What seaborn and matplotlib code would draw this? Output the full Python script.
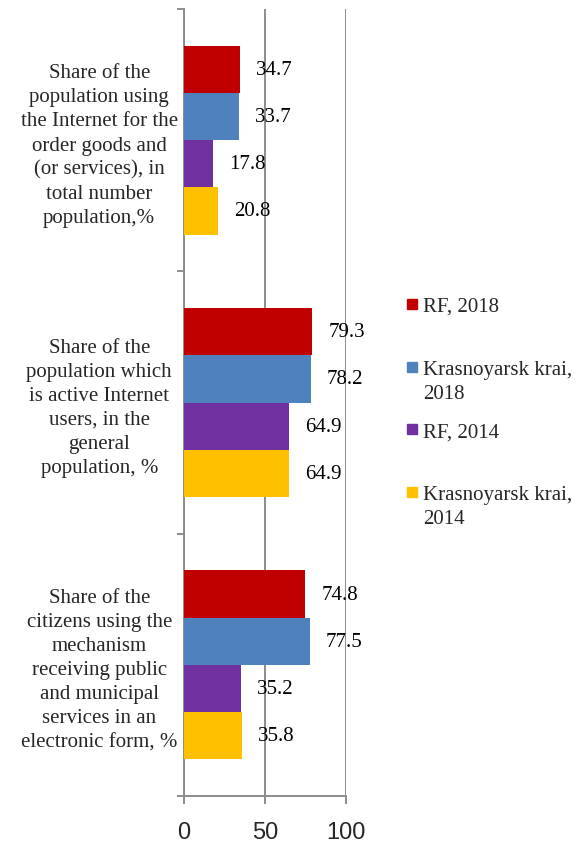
import matplotlib
matplotlib.use("Agg")
import matplotlib.pyplot as plt
from matplotlib.patches import Rectangle
import pandas as pd
import seaborn as sns

# ── data ─────────────────────────────────────────────────────────────────────
categories = [
    "Share of the\npopulation using\nthe Internet for the\norder goods and\n(or services), in\ntotal number\npopulation,%",
    "Share of the\npopulation which\nis active Internet\nusers, in the\ngeneral\npopulation, %",
    "Share of the\ncitizens using the\nmechanism\nreceiving public\nand municipal\nservices in an\nelectronic form, %",
]
series = ["RF, 2018", "Krasnoyarsk krai, 2018", "RF, 2014", "Krasnoyarsk krai, 2014"]
legend_labels = ["RF, 2018", "Krasnoyarsk krai,\n2018", "RF, 2014", "Krasnoyarsk krai,\n2014"]
rf_2018 = [34.7, 79.3, 74.8]
kk_2018 = [33.7, 78.2, 77.5]
rf_2014 = [17.8, 64.9, 35.2]
kk_2014 = [20.8, 64.9, 35.8]
x_ticks = [0, 50, 100]

COLORS = ["#C00000", "#4F81BD", "#7030A0", "#FFC000"]
GRID = "#8c8c8c"
SERIF = "Liberation Serif"

rows = []
for name, vals in zip(series, [rf_2018, kk_2018, rf_2014, kk_2014]):
    for cat, v in zip(categories, vals):
        rows.append({"category": cat, "series": name, "value": v})
df = pd.DataFrame(rows)

# ── figure ───────────────────────────────────────────────────────────────────
sns.set_style("white")
fig = plt.figure(figsize=(5.76, 8.45), dpi=100)
ax = fig.add_axes([184 / 576, 1 - 797 / 845, 162 / 576, 787 / 845])

sns.barplot(
    data=df, x="value", y="category", hue="series",
    order=categories, hue_order=series, palette=COLORS,
    orient="h", width=0.72, saturation=1, linewidth=0,
    errorbar=None, legend=False, ax=ax, zorder=3,
)

for cont in ax.containers:
    ax.bar_label(cont, fmt="%.1f", padding=11.5, fontsize=15,
                 family=SERIF, color="black")

ax.set_xlim(0, 100)
ax.set_ylim(2.5, -0.5)
ax.set_xticks(x_ticks)
ax.set_xlabel("")
ax.set_ylabel("")

# gridlines / spines
ax.grid(axis="x", color=GRID, linewidth=1.4, zorder=0)
ax.grid(axis="y", visible=False)
for side in ["top", "right"]:
    ax.spines[side].set_visible(False)
for side in ["left", "bottom"]:
    ax.spines[side].set_color(GRID)
    ax.spines[side].set_linewidth(1.4)

ax.tick_params(axis="x", direction="out", length=6, width=1.4, color=GRID,
               pad=12, labelsize=17, bottom=True)
for lab in ax.get_xticklabels():
    lab.set_family("Liberation Sans")

# category labels centred to the left, boundary ticks on the y axis
ax.set_yticks([-0.5, 0.5, 1.5, 2.5], minor=True)
ax.tick_params(axis="y", which="minor", direction="out", length=5, width=1.4,
               color=GRID, left=True)
ax.tick_params(axis="y", which="major", length=0, pad=61)
for lab in ax.get_yticklabels():
    lab.set_family(SERIF)
    lab.set_fontsize(15)
    lab.set_ha("center")
    lab.set_multialignment("center")
    lab.set_linespacing(1.36)
    lab.set_va("center_baseline")

# legend drawn as separate entries (handle aligned with first line)
for i, (lab, col) in enumerate(zip(legend_labels, COLORS)):
    yc = 305 + i * 62.7
    fig.patches.append(Rectangle((407 / 576, 1 - (yc + 5) / 845), 10 / 576, 10 / 845,
                                 transform=fig.transFigure, color=col))
    fig.text(423 / 576, 1 - (yc - 7) / 845, lab, ha="left", va="top",
             fontsize=15, family=SERIF, linespacing=1.35)

fig.savefig("out.png", dpi=100)
